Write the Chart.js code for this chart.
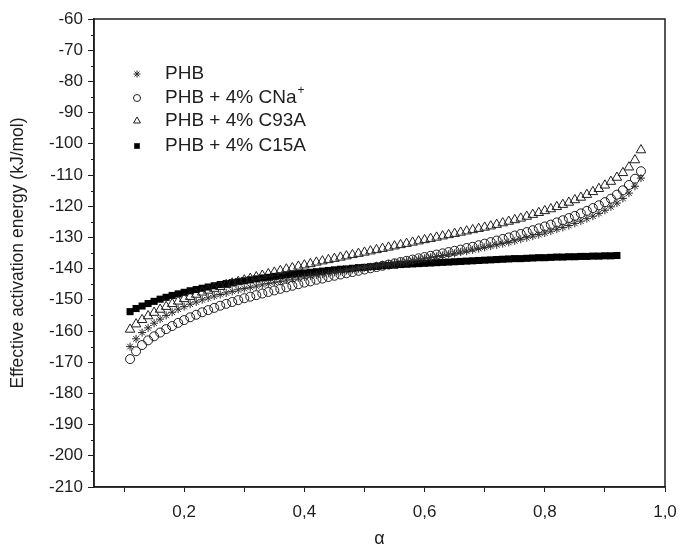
<!DOCTYPE html>
<html>
<head>
<meta charset="utf-8">
<script src="https://cdn.jsdelivr.net/npm/chart.js@4.4.1/dist/chart.umd.min.js"></script>
<style>
    html, body { margin: 0; padding: 0; background: #fff; }
    #wrap { width: 683px; height: 554px; }
</style>
</head>
<body>
<div id="wrap"><canvas id="energyChart" width="683" height="554"></canvas></div>
<script>
// conversion degree (alpha) for every measured point
const alpha = [
    0.11, 0.12, 0.13, 0.14, 0.15, 0.16, 0.17, 0.18, 0.19, 0.20,
    0.21, 0.22, 0.23, 0.24, 0.25, 0.26, 0.27, 0.28, 0.29, 0.30,
    0.31, 0.32, 0.33, 0.34, 0.35, 0.36, 0.37, 0.38, 0.39, 0.40,
    0.41, 0.42, 0.43, 0.44, 0.45, 0.46, 0.47, 0.48, 0.49, 0.50,
    0.51, 0.52, 0.53, 0.54, 0.55, 0.56, 0.57, 0.58, 0.59, 0.60,
    0.61, 0.62, 0.63, 0.64, 0.65, 0.66, 0.67, 0.68, 0.69, 0.70,
    0.71, 0.72, 0.73, 0.74, 0.75, 0.76, 0.77, 0.78, 0.79, 0.80,
    0.81, 0.82, 0.83, 0.84, 0.85, 0.86, 0.87, 0.88, 0.89, 0.90,
    0.91, 0.92, 0.93, 0.94, 0.95, 0.96
];

const phb = [
    -165.0, -162.5, -160.5, -159.0, -157.5, -156.2, -155.0, -154.0, -153.0, -152.2,
    -151.4, -150.7, -150.0, -149.4, -148.8, -148.3, -147.8, -147.3, -146.8, -146.4,
    -146.0, -145.6, -145.2, -144.8, -144.4, -144.1, -143.7, -143.4, -143.0, -142.7,
    -142.4, -142.1, -141.8, -141.5, -141.2, -140.9, -140.6, -140.3, -140.0, -139.7,
    -139.4, -139.1, -138.8, -138.5, -138.2, -137.9, -137.6, -137.3, -137.0, -136.7,
    -136.4, -136.1, -135.8, -135.4, -135.1, -134.7, -134.4, -134.0, -133.6, -133.2,
    -132.8, -132.4, -132.0, -131.6, -131.1, -130.6, -130.1, -129.6, -129.1, -128.6,
    -128.0, -127.4, -126.8, -126.2, -125.5, -124.8, -124.0, -123.2, -122.3, -121.3,
    -120.2, -119.0, -117.5, -115.8, -113.6, -111.0
];

const phbCNa = [
    -169.0, -166.5, -164.5, -163.0, -161.7, -160.5, -159.4, -158.4, -157.4, -156.5,
    -155.6, -154.8, -154.0, -153.3, -152.6, -151.9, -151.3, -150.7, -150.1, -149.5,
    -149.0, -148.5, -148.0, -147.5, -147.0, -146.5, -146.0, -145.5, -145.0, -144.5,
    -144.1, -143.6, -143.2, -142.7, -142.3, -141.9, -141.5, -141.1, -140.7, -140.3,
    -139.9, -139.5, -139.1, -138.7, -138.3, -137.9, -137.5, -137.1, -136.7, -136.3,
    -135.9, -135.5, -135.1, -134.7, -134.3, -133.9, -133.4, -133.0, -132.5, -132.0,
    -131.5, -131.0, -130.5, -130.0, -129.4, -128.9, -128.3, -127.7, -127.1, -126.5,
    -125.9, -125.2, -124.5, -123.8, -123.1, -122.3, -121.5, -120.6, -119.7, -118.7,
    -117.6, -116.3, -114.9, -113.2, -111.2, -108.8
];

const phbC93A = [
    -159.5, -157.8, -156.4, -155.2, -154.1, -153.1, -152.2, -151.3, -150.5, -149.7,
    -149.0, -148.3, -147.6, -147.0, -146.4, -145.8, -145.2, -144.7, -144.2, -143.7,
    -143.2, -142.7, -142.2, -141.7, -141.2, -140.7, -140.2, -139.8, -139.3, -138.9,
    -138.5, -138.0, -137.6, -137.2, -136.8, -136.4, -136.0, -135.6, -135.2, -134.8,
    -134.4, -134.0, -133.6, -133.2, -132.8, -132.4, -132.0, -131.6, -131.2, -130.8,
    -130.4, -130.0, -129.6, -129.2, -128.8, -128.4, -128.0, -127.6, -127.2, -126.8,
    -126.4, -125.9, -125.4, -124.9, -124.4, -123.9, -123.3, -122.7, -122.1, -121.5,
    -120.9, -120.2, -119.5, -118.8, -118.0, -117.2, -116.3, -115.4, -114.4, -113.3,
    -112.1, -110.8, -109.3, -107.5, -105.2, -102.0
];

// C15A series stops earlier (alpha 0.11 .. 0.92)
const phbC15A = [
    -153.8, -152.8, -152.0, -151.2, -150.5, -149.8, -149.2, -148.6, -148.1, -147.6,
    -147.1, -146.7, -146.3, -145.9, -145.5, -145.1, -144.8, -144.5, -144.2, -143.9,
    -143.6, -143.3, -143.0, -142.8, -142.5, -142.3, -142.0, -141.8, -141.6, -141.4,
    -141.2, -141.0, -140.8, -140.6, -140.4, -140.2, -140.1, -139.9, -139.7, -139.6,
    -139.4, -139.3, -139.1, -139.0, -138.9, -138.7, -138.6, -138.5, -138.4, -138.3,
    -138.2, -138.1, -138.0, -137.9, -137.8, -137.7, -137.6, -137.5, -137.4, -137.3,
    -137.2, -137.1, -137.0, -136.9, -136.8, -136.8, -136.7, -136.6, -136.5, -136.5,
    -136.4, -136.3, -136.3, -136.2, -136.2, -136.1, -136.1, -136.0, -136.0, -135.9,
    -135.9, -135.8
];

const seriesLabels = ["PHB", "PHB + 4% CNa", "PHB + 4% C93A", "PHB + 4% C15A"];
const xTicks = [0.1, 0.2, 0.3, 0.4, 0.5, 0.6, 0.7, 0.8, 0.9, 1.0];
const xLabelled = [0.2, 0.4, 0.6, 0.8, 1.0];
const yMinorTicks = [-205, -195, -185, -175, -165, -155, -145, -135, -125, -115, -105, -95, -85, -75, -65];

const ink = "#1e1e1e";
const fontFamily = "'Liberation Sans', Arial, sans-serif";
const toPoints = (ys) => ys.map((y, i) => ({ x: alpha[i], y }));

const datasets = [
    { label: seriesLabels[0], data: toPoints(phb), pointStyle: "star", pointRadius: 4, legendRadius: 3.5, borderColor: "#2a2a2a", backgroundColor: "#2a2a2a", pointBorderWidth: 1 },
    { label: seriesLabels[1], data: toPoints(phbCNa), pointStyle: "circle", pointRadius: 4.5, legendRadius: 3.5, borderColor: ink, backgroundColor: "rgba(0,0,0,0)", pointBorderWidth: 1 },
    { label: seriesLabels[2], data: toPoints(phbC93A), pointStyle: "triangle", pointRadius: 5.5, legendRadius: 4, borderColor: ink, backgroundColor: "rgba(0,0,0,0)", pointBorderWidth: 1 },
    { label: seriesLabels[3], data: toPoints(phbC15A), pointStyle: "rect", pointRadius: 5, legendRadius: 4, borderColor: "#000", backgroundColor: "#000", pointBorderWidth: 0 }
];

const frameAndLegend = {
    id: "frameAndLegend",
    afterDraw(chart) {
        const { ctx, chartArea: a, scales } = chart;
        ctx.save();

        // box around the plot
        ctx.strokeStyle = ink;
        ctx.lineWidth = 1.5;
        ctx.strokeRect(a.left, a.top, a.right - a.left, a.bottom - a.top);

        // minor ticks on the y axis
        ctx.lineWidth = 1;
        yMinorTicks.forEach((v) => {
            const py = Math.round(scales.y.getPixelForValue(v)) + 0.5;
            ctx.beginPath();
            ctx.moveTo(a.left - 3, py);
            ctx.lineTo(a.left, py);
            ctx.stroke();
        });

        // legend in the upper-left corner of the plot
        const rows = [74, 98, 121, 146];
        ctx.textBaseline = "middle";
        ctx.font = `19px ${fontFamily}`;
        datasets.forEach((ds, i) => {
            ctx.fillStyle = ds.backgroundColor;
            ctx.strokeStyle = ds.borderColor;
            ctx.lineWidth = ds.pointBorderWidth || 1;
            Chart.helpers.drawPoint(ctx, { pointStyle: ds.pointStyle, radius: ds.legendRadius, rotation: 0, borderWidth: ds.pointBorderWidth }, 137, rows[i]);
            ctx.fillStyle = ink;
            ctx.fillText(ds.label, 165, rows[i]);
            if (i === 1) {
                const w = ctx.measureText(ds.label).width;
                ctx.font = `12px ${fontFamily}`;
                ctx.fillText("+", 165 + w + 1, rows[i] - 7);
                ctx.font = `19px ${fontFamily}`;
            }
        });
        ctx.restore();
    }
};

new Chart(document.getElementById("energyChart"), {
    type: "scatter",
    data: { datasets },
    options: {
        responsive: false,
        animation: false,
        layout: { padding: { top: 19, right: 18, left: 0, bottom: 0 } },
        plugins: {
            legend: { display: false },
            tooltip: { enabled: false }
        },
        scales: {
            x: {
                type: "linear",
                min: 0.05,
                max: 1.0,
                afterBuildTicks: (scale) => { scale.ticks = xTicks.map((value) => ({ value })); },
                afterFit: (scale) => {
                    scale.height = 67;
                    scale.paddingLeft = 0;
                    scale.paddingRight = 0;
                },
                ticks: {
                    autoSkip: false,
                    maxRotation: 0,
                    padding: 10,
                    color: ink,
                    font: { family: fontFamily, size: 17 },
                    callback: (value) => xLabelled.some((l) => Math.abs(l - value) < 1e-6) ? value.toFixed(1).replace(".", ",") : ""
                },
                grid: { drawOnChartArea: false, color: ink, tickLength: 5, tickWidth: 1 },
                border: { color: ink, width: 1.5 },
                title: {
                    display: true,
                    text: "α",
                    color: ink,
                    padding: { top: 4 },
                    font: { family: fontFamily, size: 18 }
                }
            },
            y: {
                min: -210,
                max: -60,
                afterFit: (scale) => {
                    scale.width = 94;
                    scale.paddingTop = 0;
                    scale.paddingBottom = 0;
                },
                ticks: {
                    stepSize: 10,
                    padding: 5,
                    color: ink,
                    font: { family: fontFamily, size: 17 }
                },
                grid: { drawOnChartArea: false, color: ink, tickLength: 6, tickWidth: 1 },
                border: { color: ink, width: 1.5 },
                title: {
                    display: true,
                    text: "Effective activation energy (kJ/mol)",
                    color: ink,
                    padding: { top: 8, bottom: 0 },
                    font: { family: fontFamily, size: 17.5 }
                }
            }
        }
    },
    plugins: [frameAndLegend]
});
</script>
</body>
</html>
